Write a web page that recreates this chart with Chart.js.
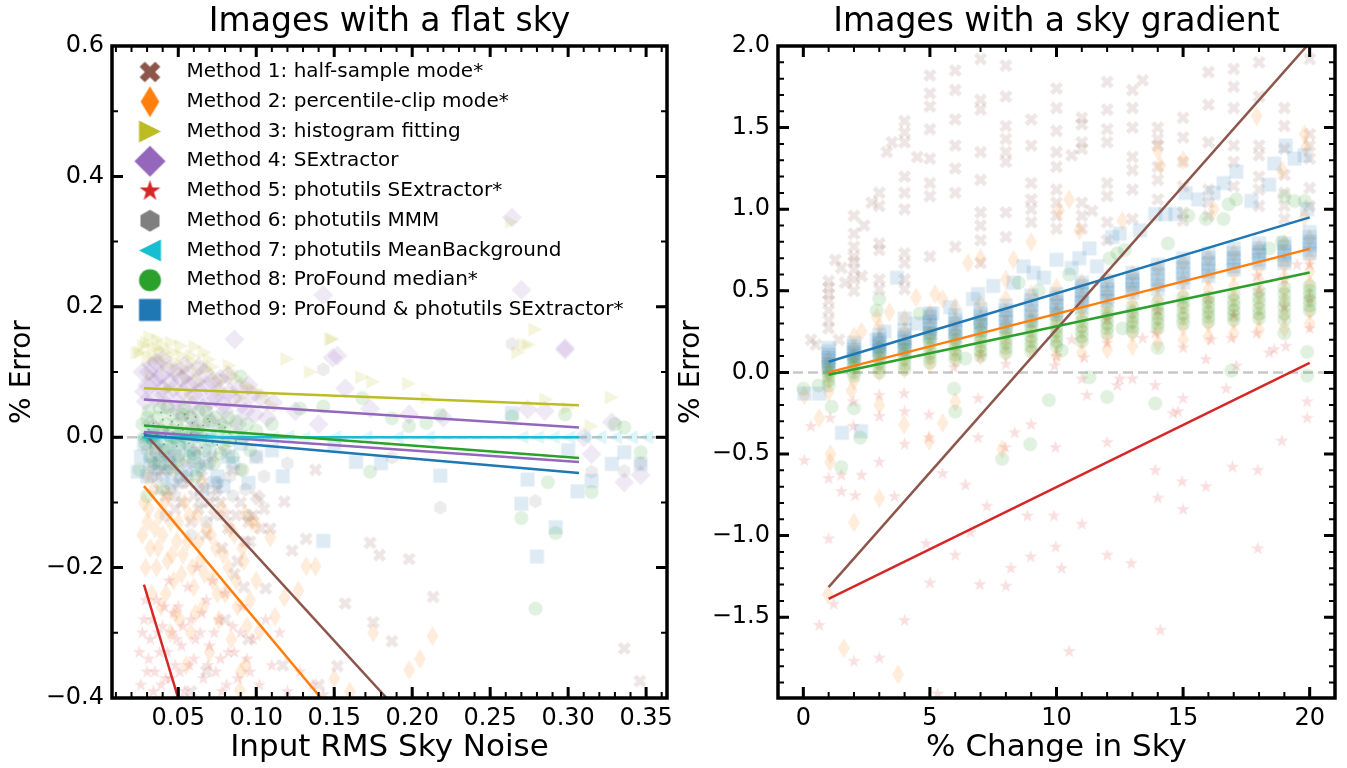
<!DOCTYPE html>
<html>
<head>
<meta charset="utf-8">
<script src="https://cdn.jsdelivr.net/npm/chart.js@4.4.1/dist/chart.umd.min.js"></script>
<style>
body{margin:0;background:#fff}
#wrap{position:relative;width:1347px;height:768px}
canvas{position:absolute;top:0}
</style>
</head>
<body>
<div id="wrap">
<canvas id="flatChart" width="675" height="768" style="left:0"></canvas>
<canvas id="gradChart" width="672" height="768" style="left:675px"></canvas>
</div>
<script>
// ---- methods ----
const methodNames = ['Method 1: half-sample mode*', 'Method 2: percentile-clip mode*', 'Method 3: histogram fitting',
  'Method 4: SExtractor', 'Method 5: photutils SExtractor*', 'Method 6: photutils MMM',
  'Method 7: photutils MeanBackground', 'Method 8: ProFound median*', 'Method 9: ProFound & photutils SExtractor*']
const methodColors = ['#8c564b', '#ff7f0e', '#bcbd22', '#9467bd', '#d62728', '#7f7f7f', '#17becf', '#2ca02c', '#1f77b4']
const methodShapes = ['xfilled', 'thin_diamond', 'tri_right', 'diamond', 'star', 'hexagon', 'tri_left', 'circle', 'square']

// ---- axes ----
const flatXRange = [0.0075, 0.3634]
const flatYRange = [-0.4, 0.6]
const flatXTicks = [0.05, 0.1, 0.15, 0.2, 0.25, 0.3, 0.35]
const flatYTicks = [-0.4, -0.2, 0, 0.2, 0.4, 0.6]
const gradXRange = [-1, 21]
const gradYRange = [-1.995, 2]
const gradXTicks = [0, 5, 10, 15, 20]
const gradYTicks = [-1.5, -1, -0.5, 0, 0.5, 1, 1.5, 2]

// ---- flat sky: scatter (x = rms noise, y = % error) ----
const flatM1 = [[0.035,-0.02],[0.04,-0.05],[0.045,-0.03],[0.05,-0.07],[0.055,-0.04],[0.06,-0.09],[0.065,-0.06],[0.07,-0.1],
  [0.075,-0.08],[0.08,-0.12],[0.085,-0.05],[0.09,-0.1],[0.095,-0.13],[0.1,-0.09],[0.038,-0.08],[0.048,-0.11],[0.058,-0.13],
  [0.068,-0.15],[0.078,-0.17],[0.088,-0.19],[0.072,-0.03],[0.062,-0.02],[0.105,-0.11],[0.109,-0.14],[0.096,-0.16],[0.086,-0.21],
  [0.092,-0.23],[0.102,-0.095],[0.118,-0.099],[0.138,-0.05],[0.132,-0.156],[0.123,-0.174],[0.106,-0.232],[0.157,-0.255],
  [0.152,-0.351],[0.117,-0.35],[0.068,-0.359],[0.173,-0.162],[0.179,-0.181],[0.198,-0.187],[0.2135,-0.245],[0.175,-0.284],
  [0.187,-0.313],[0.336,-0.324],[0.346,-0.374],[0.08,-0.28],[0.095,-0.31],[0.14,-0.38],[0.058,-0.39],
  [0.033,-0.04],[0.037,-0.06],[0.042,-0.09],[0.047,-0.05],[0.052,-0.1],[0.057,-0.07],[0.063,-0.11],[0.067,-0.08],
  [0.073,-0.12],[0.077,-0.1],[0.082,-0.14],[0.087,-0.12],[0.093,-0.16],[0.098,-0.12],[0.103,-0.14]]
const flatM2 = [[0.028,-0.1],[0.03,-0.13],[0.032,-0.17],[0.034,-0.08],[0.036,-0.2],[0.038,-0.12],[0.04,-0.15],[0.042,-0.24],
  [0.044,-0.09],[0.046,-0.18],[0.048,-0.27],[0.05,-0.13],[0.052,-0.21],[0.054,-0.1],[0.056,-0.16],[0.058,-0.3],[0.06,-0.23],
  [0.062,-0.12],[0.064,-0.19],[0.066,-0.26],[0.068,-0.14],[0.07,-0.33],[0.072,-0.22],[0.074,-0.17],[0.076,-0.28],[0.078,-0.11],
  [0.08,-0.24],[0.082,-0.2],[0.084,-0.31],[0.086,-0.15],[0.088,-0.26],[0.09,-0.36],[0.092,-0.19],[0.094,-0.29],[0.097,-0.13],
  [0.1,-0.22],[0.03,-0.06],[0.045,-0.3],[0.055,-0.35],[0.065,-0.07],[0.093,-0.118],[0.0997,-0.134],[0.109,-0.154],
  [0.132,-0.198],[0.138,-0.198],[0.118,-0.246],[0.127,-0.235],[0.112,-0.275],[0.102,-0.298],[0.0895,-0.388],[0.093,-0.35],
  [0.175,-0.3],[0.213,-0.305],[0.205,-0.34],[0.198,-0.357],[0.15,-0.37],[0.16,-0.39],
  [0.027,-0.15],[0.029,-0.2],[0.031,-0.11],[0.033,-0.24],[0.035,-0.14],[0.037,-0.17],[0.039,-0.26],[0.041,-0.1],
  [0.043,-0.19],[0.045,-0.13],[0.047,-0.22],[0.049,-0.16],[0.051,-0.28],[0.053,-0.18],[0.057,-0.12],[0.059,-0.2],
  [0.061,-0.27],[0.063,-0.16],[0.067,-0.21],[0.071,-0.15],[0.075,-0.24],[0.079,-0.18],[0.083,-0.14],[0.087,-0.22],
  [0.091,-0.17],[0.096,-0.25]]
const flatM3 = [[0.026,0.13],[0.03,0.145],[0.032,0.154],[0.035,0.12],[0.038,0.135],[0.04,0.142],[0.043,0.11],[0.047,0.13],
  [0.05,0.1],[0.053,0.125],[0.056,0.09],[0.06,0.115],[0.061,0.139],[0.065,0.085],[0.068,0.105],[0.07,0.119],[0.074,0.095],
  [0.078,0.07],[0.081,0.089],[0.085,0.1],[0.09,0.06],[0.094,0.08],[0.098,0.073],[0.104,0.065],[0.11,0.05],[0.024,0.13],
  [0.045,0.075],[0.058,0.06],[0.033,0.095],[0.148,0.15],[0.149,0.151],[0.168,0.092],[0.175,0.085],[0.198,0.082],[0.21,0.06],
  [0.264,0.33],[0.279,0.165],[0.272,0.142],[0.275,0.142],[0.268,0.13],[0.328,0.061],[0.315,0.017],[0.286,0.058],[0.3,0.045],
  [0.12,0.12],[0.135,0.1],
  [0.028,0.14],[0.031,0.12],[0.034,0.135],[0.037,0.15],[0.039,0.12],[0.042,0.13],[0.046,0.145],[0.049,0.115],[0.052,0.14],
  [0.055,0.105],[0.059,0.125],[0.063,0.1],[0.067,0.13],[0.072,0.108],[0.076,0.085],[0.083,0.11],[0.088,0.09]]
const flatM4 = [[0.027,0.1],[0.03,0.08],[0.033,0.11],[0.035,0.06],[0.037,0.09],[0.04,0.12],[0.042,0.05],[0.045,0.085],
  [0.048,0.1],[0.05,0.04],[0.053,0.07],[0.055,0.095],[0.058,0.03],[0.06,0.065],[0.063,0.108],[0.066,0.045],[0.068,0.08],
  [0.071,0.025],[0.074,0.06],[0.077,0.09],[0.08,0.04],[0.083,0.07],[0.086,0.15],[0.088,0.02],[0.091,0.05],[0.095,0.08],
  [0.099,0.035],[0.103,0.06],[0.107,0.03],[0.111,0.053],[0.032,0.02],[0.046,0.01],[0.062,0.015],[0.04,0.075],[0.029,0.055],
  [0.149,0.122],[0.152,0.125],[0.157,0.075],[0.173,0.044],[0.198,0.035],[0.22,0.03],[0.274,0.043],[0.298,0.137],[0.285,0.04],
  [0.328,0.023],[0.315,-0.026],[0.336,-0.069],[0.3465,-0.058],[0.264,0.337],[0.27,0.226],[0.143,0.218],[0.298,0.134],
  [0.125,0.04],[0.14,0.02],[0.31,0.0],
  [0.028,0.07],[0.031,0.1],[0.034,0.085],[0.036,0.115],[0.039,0.095],[0.041,0.065],[0.044,0.105],[0.047,0.075],[0.049,0.055],
  [0.052,0.09],[0.054,0.11],[0.057,0.08],[0.059,0.05],[0.061,0.085],[0.064,0.07],[0.067,0.1],[0.07,0.055],[0.072,0.085],
  [0.076,0.07],[0.079,0.05],[0.082,0.095],[0.085,0.06],[0.089,0.075],[0.093,0.04],[0.097,0.065]]
const flatM5 = [[0.028,-0.28],[0.03,-0.36],[0.032,-0.31],[0.034,-0.39],[0.036,-0.25],[0.038,-0.33],[0.04,-0.29],[0.042,-0.37],
  [0.044,-0.22],[0.046,-0.3],[0.048,-0.35],[0.05,-0.26],[0.052,-0.32],[0.054,-0.39],[0.056,-0.23],[0.058,-0.28],[0.06,-0.34],
  [0.062,-0.2],[0.064,-0.3],[0.066,-0.37],[0.068,-0.25],[0.07,-0.32],[0.072,-0.22],[0.074,-0.36],[0.076,-0.28],[0.078,-0.39],
  [0.08,-0.24],[0.082,-0.33],[0.085,-0.29],[0.088,-0.37],[0.091,-0.26],[0.094,-0.34],[0.098,-0.31],[0.102,-0.38],[0.106,-0.28],
  [0.11,-0.35],[0.115,-0.3],[0.12,-0.39],[0.128,-0.36],[0.136,-0.38],[0.143,-0.395],[0.025,-0.33],[0.026,-0.38],[0.05,-0.4],
  [0.066,-0.41],
  [0.027,-0.3],[0.029,-0.25],[0.031,-0.34],[0.033,-0.28],[0.035,-0.36],[0.037,-0.3],[0.039,-0.38],[0.041,-0.26],[0.043,-0.33],
  [0.045,-0.37],[0.047,-0.27],[0.049,-0.31],[0.051,-0.36],[0.053,-0.29],[0.057,-0.35],[0.061,-0.31],[0.065,-0.27],[0.069,-0.35],
  [0.073,-0.3],[0.077,-0.34],[0.081,-0.38],[0.086,-0.33],[0.09,-0.3],[0.096,-0.36]]
const flatM6 = [[0.03,-0.02],[0.035,-0.05],[0.04,0.01],[0.045,-0.08],[0.05,-0.03],[0.055,-0.06],[0.06,0.0],[0.065,-0.1],
  [0.07,-0.04],[0.075,-0.07],[0.08,-0.02],[0.085,-0.09],[0.09,-0.05],[0.095,-0.12],[0.1,-0.03],[0.042,-0.12],[0.052,0.03],
  [0.068,-0.13],[0.058,-0.15],[0.078,0.02],[0.143,0.104],[0.264,0.143],[0.218,-0.108],[0.279,-0.098],[0.315,-0.053],
  [0.336,-0.052],[0.3465,-0.04],[0.187,-0.031],[0.12,-0.04],[0.105,-0.06],
  [0.033,-0.06],[0.038,-0.03],[0.043,-0.05],[0.048,-0.09],[0.053,-0.07],[0.063,-0.04],[0.073,-0.09],[0.083,-0.06],[0.093,-0.08]]
const flatM7 = [[0.027,0.0],[0.03,0.005],[0.033,-0.005],[0.036,0.0],[0.04,0.003],[0.045,-0.003],[0.05,0.0],[0.055,0.004],
  [0.06,-0.002],[0.065,0.0],[0.07,0.003],[0.075,-0.003],[0.08,0.0],[0.09,0.002],[0.1,-0.002],[0.11,0.0],[0.12,0.001],
  [0.13,-0.001],[0.15,0.0],[0.17,0.0],[0.19,0.0],[0.21,0.0],[0.27,0.0],[0.28,0.0],[0.29,0.0],[0.3,0.0],[0.31,0.0],
  [0.32,0.0],[0.33,0.0],[0.34,0.0],[0.35,0.0],
  [0.028,0.002],[0.029,-0.003],[0.031,0.0],[0.032,0.003],[0.034,-0.002],[0.038,0.002],[0.042,-0.001],[0.048,0.002],
  [0.052,-0.002],[0.058,0.001],[0.062,0.002],[0.068,-0.001]]
const flatM8 = [[0.027,0.02],[0.029,-0.01],[0.031,0.04],[0.033,0.0],[0.035,-0.04],[0.037,0.03],[0.039,0.01],[0.041,-0.02],
  [0.043,0.045],[0.045,0.0],[0.047,-0.05],[0.049,0.02],[0.051,-0.015],[0.053,0.035],[0.055,0.005],[0.057,-0.03],[0.059,0.015],
  [0.061,-0.06],[0.063,0.04],[0.065,0.0],[0.067,-0.02],[0.07,0.025],[0.073,-0.04],[0.076,0.01],[0.079,-0.01],[0.082,0.03],
  [0.085,-0.03],[0.088,0.005],[0.091,-0.05],[0.094,0.02],[0.025,-0.05],[0.03,-0.09],[0.04,-0.08],[0.09,0.093],[0.128,0.044],
  [0.11,0.02],[0.143,0.047],[0.168,0.06],[0.218,0.034],[0.173,-0.053],[0.187,0.029],[0.198,0.017],[0.209,0.022],[0.264,0.032],
  [0.298,0.035],[0.287,-0.069],[0.27,-0.124],[0.292,-0.147],[0.279,-0.263],[0.315,-0.084],[0.336,0.015],[0.3465,-0.023],[0.33,0.02],
  [0.028,0.0],[0.03,0.03],[0.032,-0.03],[0.034,0.015],[0.036,-0.01],[0.038,0.045],[0.04,-0.04],[0.042,0.02],[0.044,-0.015],
  [0.046,0.035],[0.048,0.0],[0.05,-0.035],[0.052,0.01],[0.054,0.045],[0.056,-0.01],[0.058,0.03],[0.06,-0.025],[0.062,0.01],
  [0.064,-0.045],[0.066,0.02],[0.068,0.04],[0.071,-0.005],[0.074,0.03],[0.077,-0.025],[0.08,0.015],[0.083,-0.005],
  [0.087,0.025],[0.092,0.0],[0.096,-0.02],[0.1,0.01]]
const flatM9 = [[0.026,-0.03],[0.03,-0.06],[0.034,0.0],[0.038,-0.04],[0.042,-0.02],[0.046,-0.07],[0.05,-0.01],[0.055,-0.05],
  [0.06,-0.03],[0.065,-0.08],[0.07,-0.02],[0.075,-0.06],[0.079,-0.075],[0.085,-0.04],[0.09,-0.01],[0.095,-0.07],[0.1,-0.03],
  [0.024,-0.053],[0.117,-0.06],[0.11,-0.02],[0.143,-0.159],[0.164,-0.038],[0.18,-0.04],[0.218,-0.059],[0.264,0.037],
  [0.274,-0.065],[0.27,-0.102],[0.28,-0.183],[0.292,-0.138],[0.306,-0.083],[0.315,-0.067],[0.328,-0.041],[0.336,-0.023],
  [0.3465,-0.041],[0.15,-0.01],[0.3,-0.02],
  [0.028,-0.01],[0.032,-0.04],[0.036,-0.02],[0.04,-0.06],[0.044,-0.04],[0.048,-0.03],[0.052,-0.06],[0.058,-0.02],
  [0.062,-0.05],[0.068,-0.04],[0.073,-0.07],[0.082,-0.03]]
const flatDots = [[0.031,0.012],[0.034,0.021],[0.036,0.004],[0.037,0.017],[0.04,0.027],[0.042,0.002],[0.043,0.014],
  [0.046,0.024],[0.047,0.007],[0.05,0.019],[0.052,-0.003],[0.053,0.011],[0.056,0.029],[0.058,0.006],[0.059,0.022],
  [0.062,-0.004],[0.063,0.013],[0.066,0.018],[0.068,0.003],[0.07,0.024],[0.072,-0.008],[0.074,0.009],[0.076,0.02],
  [0.078,-0.002],[0.08,0.015],[0.033,-0.007],[0.041,-0.011],[0.049,-0.014],[0.057,-0.009],[0.065,-0.016],[0.075,-0.012],
  [0.045,0.033],[0.054,0.035],[0.061,0.031],[0.069,0.028],[0.083,0.006],[0.087,-0.006],[0.039,0.038],[0.048,0.0],[0.055,-0.001]]

// ---- flat sky: linear fits (x ends, y ends per method) ----
const flatFitX = [0.028, 0.307]
const flatFitM1 = [0.007, -0.723]
const flatFitM2 = [-0.075, -0.874]
const flatFitM3 = [0.075, 0.049]
const flatFitM4 = [0.058, 0.015]
const flatFitM5 = [-0.226, -2.44]
const flatFitM6 = [0.008, -0.038]
const flatFitM7 = [0.0, 0.0]
const flatFitM8 = [0.018, -0.032]
const flatFitM9 = [0.003, -0.055]

// ---- sky gradient: columns at each % change ----
const gradSteps = [1, 2, 3, 4, 5, 6, 7, 8, 9, 10, 11, 12, 13, 14, 15, 16, 17, 18, 19, 20]
const gradM1Cols = [[0.27,0.32,0.38,0.44,0.48,0.52,0.56],[0.5,0.57,0.63,0.68,0.71,0.77,0.85,0.96],[0.51,0.57,0.75,0.79,1.02,1.1],
  [0.51,0.57,0.67,0.73,1.0,1.1,1.2,1.41,1.47,1.54],[0.71,1.08,1.16,1.31,1.49,1.63,1.71,1.82],[0.77,1.1,1.25,1.39,1.55,1.73,1.85],
  [0.67,0.81,0.9,0.98,1.18,1.35,1.61,1.67,1.92],[0.83,0.98,1.29,1.35,1.43,1.51,1.69,1.88],[0.92,1.0,1.06,1.16,1.39,1.55],
  [0.88,0.96,1.04,1.12,1.26,1.35,1.48,1.62,1.74],[0.88,0.96,1.04,1.37,1.41,1.52,1.56],[0.81,0.92,1.08,1.16,1.41,1.49,1.61,1.78],
  [0.94,1.12,1.24,1.32,1.5,1.62,1.73],[1.06,1.18,1.26,1.39,1.43,1.5],[0.93,0.98,1.14,1.29,1.44,1.56],[0.96,1.04,1.12,1.41,1.64,1.84],
  [1.14,1.29,1.39,1.62,1.75,1.86],[1.02,1.12,1.2,1.33,1.39,1.69,1.9],[0.94,1.02,1.1,1.21,1.37,1.51,1.62],[1.02,1.13,1.31,1.39,1.46,1.92]]
const gradM1Extra = [[0.3,0.2],[0.5,0.17],[1.26,0.69],[1.5,0.64],[1.65,0.55],[1.4,0.2],[2.31,0.59],[2.7,1.04],[3.3,1.35],
  [3.5,1.41],[4.5,1.32],[10.6,1.33],[11.4,0.99],[13.4,1.79],[2.4,0.9]]
const gradM2Cols = [[-0.12,-0.05,0.0,0.04,0.08],[-0.05,0.02,0.06,0.1,0.15,0.22],[0.0,0.05,0.1,0.14,0.2,0.28],
  [0.02,0.08,0.13,0.18,0.25,0.33],[0.05,0.1,0.16,0.22,0.28,0.36],[0.08,0.13,0.19,0.25,0.31,0.4],[0.1,0.15,0.21,0.27,0.33,0.42],
  [0.12,0.18,0.24,0.3,0.36,0.45],[0.14,0.2,0.26,0.32,0.38,0.48],[0.1,0.18,0.25,0.31,0.37,0.44,0.52],
  [0.12,0.2,0.27,0.33,0.39,0.46,0.55],[0.14,0.22,0.29,0.35,0.41,0.48,0.58],[0.16,0.24,0.31,0.37,0.43,0.5,0.6],
  [0.18,0.26,0.33,0.39,0.45,0.53,0.64],[0.2,0.28,0.35,0.41,0.48,0.56,0.67],[0.22,0.3,0.37,0.44,0.51,0.58,0.7],
  [0.24,0.32,0.39,0.46,0.53,0.61,0.73],[0.26,0.34,0.41,0.48,0.56,0.64,0.76],[0.27,0.35,0.43,0.5,0.58,0.66,0.79],
  [0.3,0.38,0.46,0.54,0.62,0.7,0.82]]
const gradM2Extra = [[6.5,0.67],[7,0.7],[8.3,0.69],[4.45,0.46],[5.5,0.45],[5.2,0.48],[2.9,0.34],[3.4,0.37],[2.3,0.25],
  [10.1,0.99],[10.5,1.06],[10.9,0.87],[12.6,0.93],[14,1.36],[14.1,1.27],[15,1.3],[17.9,1.57],[19.8,1.46],[19.85,1.38],
  [18.9,1.24],[19.8,0.95],[16.2,1.0],[9,0.8],[8,0.57],[1.6,-1.69],[3.74,-1.85],[2,-0.92],[3,-0.77],[1.07,-0.5],[1.05,-0.55],
  [0.97,-1.36],[5.5,-0.31],[4.97,-0.42],[3.98,-0.32],[7.85,-0.47],[6,-0.18],[3,-0.2],[1.9,-0.11],[0.04,-0.14],[0.63,-0.28]]
const gradM5 = [[0.04,-0.54],[0.63,-1.55],[1.0,-0.65],[1.0,-1.02],[1.2,-1.42],[1.5,-0.63],[1.5,-0.73],[2.05,-0.755],[2.0,-1.77],
  [2.3,-0.63],[3.0,-0.55],[3.0,-1.75],[3.6,-0.76],[4.0,-0.44],[4.0,-1.52],[4.85,-1.05],[5.0,-1.29],[5.3,-1.97],[5.5,-0.62],
  [6.0,-1.12],[6.4,-0.69],[6.6,-0.98],[6.97,-1.3],[7.25,-0.82],[8.0,-1.31],[8.2,-1.2],[8.35,-0.37],[8.85,-0.88],[8.98,-1.13],
  [9.9,-0.88],[9.97,-1.07],[10.2,-1.2],[9.96,-0.46],[10.5,-1.71],[11.0,-0.93],[11.2,-0.14],[12.0,-0.43],[12.0,-1.12],
  [12.5,-0.04],[13.0,-0.04],[12.95,-1.17],[13.9,-0.6],[14.0,-0.77],[14.1,-1.58],[14.6,-0.25],[15.0,-0.16],[14.96,-0.67],
  [15.0,-0.84],[15.9,-0.7],[16.7,-0.1],[16.95,-0.58],[17.95,-0.6],[17.95,-1.08],[18.9,-0.42],[19.9,-0.18],[17.9,0.59],
  [19.5,0.66],[20.0,0.66],[19.0,0.57],[17.9,0.24],[19.05,0.16],[15.0,0.15],[15.9,0.08],[16.9,0.21],[13.4,0.21],[13.9,0.24],
  [12.0,0.18],[10.6,0.2],[11.1,0.09],[18.6,0.14],[20.0,0.27],[0.3,-0.33],[1.06,-0.28],[1.97,-0.18],[1.97,-0.33],[3.0,-0.14],
  [3.0,-0.27],[3.98,-0.13],[4.0,-0.24],[4.96,-0.26],[4.96,-0.4],[5.95,0.03],[6.9,-0.16],[6.9,-0.4],[7.97,-0.46],[9.0,-0.32],
  [9.92,0.04],[11.0,-0.04],[12.4,-0.08],[13.9,-0.08],[14.8,-0.24],[16.1,0.2],[17.1,0.04],[18.4,0.12],[19.9,-0.28],[18.0,0.5],
  [16.0,0.45],[14.0,0.38],[12.0,0.33],[20,0.45],[19,0.4],[17,0.35],[10,0.1],[8,0.05],[7,0.1]]
const gradM8Cols = [[-0.08,-0.05,-0.02,0.0,0.02,0.05],[-0.02,0.0,0.03,0.05,0.08,0.1],[0.0,0.03,0.06,0.09,0.12,0.15],
  [0.02,0.05,0.08,0.11,0.14,0.17],[0.06,0.09,0.12,0.15,0.18,0.21,0.24],[0.08,0.11,0.14,0.17,0.2,0.23],[0.1,0.13,0.16,0.19,0.22,0.25],
  [0.12,0.15,0.18,0.21,0.24,0.27],[0.13,0.16,0.19,0.22,0.25,0.28,0.31],[0.16,0.19,0.22,0.25,0.28,0.31,0.35],
  [0.19,0.22,0.25,0.28,0.31,0.35],[0.24,0.27,0.3,0.33,0.36,0.39],[0.25,0.28,0.31,0.34,0.37,0.4],[0.27,0.3,0.33,0.36,0.39,0.43],
  [0.3,0.33,0.36,0.4,0.43,0.46],[0.31,0.34,0.37,0.4,0.43,0.46],[0.32,0.35,0.38,0.41,0.44,0.48],[0.33,0.36,0.39,0.43,0.46,0.5],
  [0.32,0.36,0.4,0.44,0.48,0.52],[0.38,0.41,0.44,0.47,0.5,0.53]]
const gradM8Extra = [[0.0,-0.1],[0.6,-0.08],[1.12,-0.21],[1.5,-0.58],[2.0,-0.22],[2.25,-0.4],[5.95,-0.1],[6.0,-0.24],[6.4,0.085],
  [7.85,-0.53],[8.96,-0.44],[9.7,-0.17],[10.2,0.135],[11.3,-0.03],[12.0,-0.15],[12.6,0.27],[13.9,-0.19],[14.0,0.15],[16.9,0.01],
  [19.0,0.24],[19.9,-0.02],[19.9,0.125],[12.4,0.73],[12.7,0.75],[12.1,0.7],[14.4,0.79],[15.2,0.96],[15.9,0.94],[16.6,0.94],
  [17.1,1.06],[16.8,1.03],[18.4,0.76],[18.9,0.8],[19.0,1.08],[19.4,1.05],[19.8,1.05],[8.5,0.55],[9.3,0.5],[10.5,0.6],[3,0.45],
  [2.9,0.38],[7,0.3],[4.6,0.36]]
const gradM9Cols = [[0.03,0.05,0.07,0.09,0.11,0.13,0.15],[0.08,0.1,0.12,0.14,0.16,0.18],[0.12,0.14,0.16,0.18,0.2,0.23],
  [0.14,0.16,0.19,0.21,0.23,0.26],[0.22,0.24,0.27,0.29,0.31,0.34,0.36],[0.22,0.25,0.27,0.3,0.32,0.35],[0.26,0.29,0.31,0.34,0.36,0.39],
  [0.28,0.31,0.33,0.36,0.38,0.41],[0.32,0.35,0.38,0.41,0.44,0.47],[0.36,0.38,0.41,0.43,0.46,0.48],[0.4,0.43,0.45,0.48,0.5,0.53,0.55],
  [0.44,0.46,0.49,0.51,0.54,0.56],[0.49,0.51,0.54,0.56,0.58,0.61],[0.51,0.54,0.57,0.6,0.63,0.66],[0.55,0.58,0.61,0.64,0.67,0.7],
  [0.59,0.62,0.64,0.67,0.7,0.73],[0.63,0.65,0.68,0.7,0.73,0.76],[0.67,0.69,0.72,0.74,0.76,0.79],[0.67,0.69,0.72,0.74,0.77,0.79],
  [0.73,0.75,0.78,0.8,0.83,0.86]]
const gradM9Extra = [[0.04,-0.13],[0.63,-0.13],[1.53,-0.37],[2.28,-0.36],[2.9,0.2],[3.7,0.58],[4.5,0.3],[5.1,0.36],[6.7,0.45],
  [6.9,0.48],[7.5,0.53],[8.3,0.55],[8.7,0.65],[9.1,0.61],[9.5,0.58],[10,0.69],[10.6,0.64],[10.9,0.7],[11.3,0.76],[12.2,0.83],
  [12.5,0.85],[13.3,0.87],[13.9,0.97],[14.3,0.97],[14.7,0.97],[15.1,1.1],[15.6,1.06],[16.2,1.1],[16.6,1.16],[17.1,1.23],
  [17.7,1.05],[18.4,1.15],[18.6,1.28],[19.05,1.39],[19.4,1.31],[19.8,1.33],[19.9,1.0],[11.6,0.65],[3.2,0.25],[4,0.33],[5.8,0.4]]

// ---- sky gradient: linear fits ----
const gradFitX = [1, 20]
const gradFitM1 = [-1.316, 2.02]
const gradFitM2 = [0.0, 0.757]
const gradFitM5 = [-1.388, 0.059]
const gradFitM8 = [-0.014, 0.612]
const gradFitM9 = [0.065, 0.95]

// ---- helpers ----
function rgba(hex, a) {
  const n = parseInt(hex.slice(1), 16)
  return `rgba(${n >> 16},${(n >> 8) & 255},${n & 255},${a})`
}

function tracePath(g, shape, s) {
  const h = s / 2
  if (shape === 'circle') { g.arc(0, 0, h, 0, Math.PI * 2); return }
  let pts = []
  if (shape === 'square') pts = [[-h,-h],[h,-h],[h,h],[-h,h]]
  else if (shape === 'diamond') { const d = s * Math.SQRT1_2; pts = [[0,-d],[d,0],[0,d],[-d,0]] }
  else if (shape === 'thin_diamond') { const d = s * Math.SQRT1_2; pts = [[0,-d],[0.6*d,0],[0,d],[-0.6*d,0]] }
  else if (shape === 'tri_right') pts = [[h,0],[-h,-h],[-h,h]]
  else if (shape === 'tri_left') pts = [[-h,0],[h,-h],[h,h]]
  else if (shape === 'hexagon') {
    for (let k = 0; k < 6; k++) { const t = -Math.PI / 2 + k * Math.PI / 3; pts.push([h * Math.cos(t), h * Math.sin(t)]) }
  } else if (shape === 'star') {
    for (let k = 0; k < 10; k++) { const r = k % 2 ? h * 0.381966 : h; const t = -Math.PI / 2 + k * Math.PI / 5; pts.push([r * Math.cos(t), r * Math.sin(t)]) }
  } else if (shape === 'xfilled') {
    const base = [[-1,-3],[1,-3],[1,-1],[3,-1],[3,1],[1,1],[1,3],[-1,3],[-1,1],[-3,1],[-3,-1],[-1,-1]]
    pts = base.map(([u, v]) => [(u - v) * Math.SQRT1_2 * s / 6, (u + v) * Math.SQRT1_2 * s / 6])
  }
  g.moveTo(pts[0][0], pts[0][1])
  pts.slice(1).forEach(p => g.lineTo(p[0], p[1]))
  g.closePath()
}

function markerImage(shape, color, size) {
  const dim = Math.ceil(size * 1.5) + 4
  const c = document.createElement('canvas')
  c.width = dim
  c.height = dim
  const g = c.getContext('2d')
  g.translate(dim / 2, dim / 2)
  g.fillStyle = color
  g.beginPath()
  tracePath(g, shape, size)
  g.fill()
  return c
}

function columnPoints(xs, cols, extra) {
  const pts = []
  xs.forEach((x, i) => cols[i].forEach(y => pts.push([x, y])))
  return pts.concat(extra || [])
}

function scatterSet(m, points) {
  return {
    type: 'scatter',
    label: methodNames[m],
    data: points.map(p => ({x: p[0], y: p[1]})),
    pointStyle: markerImage(methodShapes[m], rgba(methodColors[m], 0.15), 14),
    pointRadius: 7,
    clip: 0,
    order: 30 - m
  }
}

function fitSet(color, xs, ys, order) {
  return {
    type: 'line',
    data: xs.map((x, i) => ({x: x, y: ys[i]})),
    borderColor: color,
    borderWidth: 2.5,
    pointRadius: 0,
    fill: false,
    clip: 0,
    order: order
  }
}

const fmt1 = v => (v < 0 ? '\u2212' : '') + Math.abs(v).toFixed(1)

// ---- plugins ----
const frameTicks = {
  id: 'frameTicks',
  beforeDatasetsDraw(chart) {
    const {ctx, chartArea: a, scales: {y}} = chart
    const y0 = y.getPixelForValue(0)
    ctx.save()
    ctx.strokeStyle = '#c8c8c8'
    ctx.lineWidth = 2.5
    ctx.setLineDash([10, 5])
    ctx.beginPath()
    ctx.moveTo(a.left, y0)
    ctx.lineTo(a.right, y0)
    ctx.stroke()
    ctx.restore()
  },
  afterDatasetsDraw(chart, args, o) {
    const {ctx, chartArea: a, scales: {x, y}} = chart
    ctx.save()
    ctx.strokeStyle = '#000'
    const xt = (vals, len, w) => {
      ctx.lineWidth = w
      ctx.beginPath()
      vals.forEach(v => {
        const p = x.getPixelForValue(v)
        if (p < a.left + 1 || p > a.right - 1) return
        ctx.moveTo(p, a.bottom); ctx.lineTo(p, a.bottom - len)
        ctx.moveTo(p, a.top); ctx.lineTo(p, a.top + len)
      })
      ctx.stroke()
    }
    const yt = (vals, len, w) => {
      ctx.lineWidth = w
      ctx.beginPath()
      vals.forEach(v => {
        const p = y.getPixelForValue(v)
        if (p < a.top + 1 || p > a.bottom - 1) return
        ctx.moveTo(a.left, p); ctx.lineTo(a.left + len, p)
        ctx.moveTo(a.right, p); ctx.lineTo(a.right - len, p)
      })
      ctx.stroke()
    }
    const minor = (lo, hi, step) => {
      const out = []
      for (let k = Math.ceil(lo / step); k * step <= hi; k++) out.push(+(k * step).toFixed(6))
      return out
    }
    xt(minor(x.min, x.max, o.xMinor), 6, 2)
    yt(minor(y.min, y.max, o.yMinor), 6, 2)
    xt(o.xMajor, 11, 3)
    yt(o.yMajor, 11, 3)
    ctx.lineWidth = 3.5
    ctx.strokeRect(a.left, a.top, a.right - a.left, a.bottom - a.top)
    ctx.restore()
  }
}

const methodLegend = {
  id: 'methodLegend',
  afterDraw(chart, args, o) {
    if (!o.show) return
    const {ctx, chartArea: a} = chart
    ctx.save()
    ctx.font = '20px "DejaVu Sans"'
    ctx.textBaseline = 'middle'
    ctx.fillStyle = '#000'
    methodNames.forEach((name, i) => {
      const img = markerImage(methodShapes[i], methodColors[i], 22)
      const yy = a.top + 26 + i * 29.75
      ctx.drawImage(img, a.left + 38 - img.width / 2, yy - img.height / 2)
      ctx.fillText(name, a.left + 74.5, yy)
    })
    ctx.restore()
  }
}

function panelOptions(p) {
  const noPad = s => { s.paddingLeft = 0; s.paddingRight = 0; s.paddingTop = 0; s.paddingBottom = 0 }
  const hidden = {display: false, drawTicks: false}
  return {
    responsive: false,
    animation: false,
    events: [],
    layout: {padding: 0},
    plugins: {
      legend: {display: false},
      tooltip: {enabled: false},
      frameTicks: {xMajor: p.xTicks, yMajor: p.yTicks, xMinor: p.xMinor, yMinor: p.yMinor},
      methodLegend: {show: p.legend}
    },
    scales: {
      x: {
        type: 'linear', position: 'bottom', min: p.xRange[0], max: p.xRange[1],
        afterBuildTicks: s => { s.ticks = p.xTicks.map(v => ({value: v})) },
        ticks: {color: '#000', font: {size: 24}, padding: 6, maxRotation: 0, minRotation: 0, autoSkip: false, callback: p.xFmt},
        grid: hidden, border: {display: false},
        title: {display: true, text: p.xTitle, color: '#000', font: {size: 31}, padding: {top: 0, bottom: 1}},
        afterFit: s => { s.height = 70; noPad(s) }
      },
      xTop: {
        type: 'linear', position: 'top', min: p.xRange[0], max: p.xRange[1],
        ticks: {display: false}, grid: hidden, border: {display: false},
        title: {display: true, text: p.title, color: '#000', font: {size: 33}, padding: {top: 3, bottom: 0}},
        afterFit: s => { s.height = 46; noPad(s) }
      },
      y: {
        type: 'linear', position: 'left', min: p.yRange[0], max: p.yRange[1],
        afterBuildTicks: s => { s.ticks = p.yTicks.map(v => ({value: v})) },
        ticks: {color: '#000', font: {size: 24}, padding: 8, autoSkip: false, callback: fmt1},
        grid: hidden, border: {display: false},
        title: {display: true, text: '% Error', color: '#000', font: {size: 28}, padding: {top: p.yTitlePad, bottom: 0}},
        afterFit: s => { s.width = p.left; noPad(s) }
      },
      yRight: {
        type: 'linear', position: 'right', min: p.yRange[0], max: p.yRange[1],
        ticks: {display: false}, grid: hidden, border: {display: false},
        afterFit: s => { s.width = p.right; noPad(s) }
      }
    }
  }
}

Chart.defaults.font.family = "'DejaVu Sans', sans-serif"

// ---- left panel ----
const flatSets = [flatM1, flatM2, flatM3, flatM4, flatM5, flatM6, flatM7, flatM8, flatM9].map((pts, m) => scatterSet(m, pts))
flatSets.push({type: 'scatter', data: flatDots.map(p => ({x: p[0], y: p[1]})), pointRadius: 0.9, pointStyle: 'circle',
  backgroundColor: 'rgba(30,120,70,0.5)', borderWidth: 0, clip: 0, order: 15})
const flatFits = [flatFitM1, flatFitM2, flatFitM3, flatFitM4, flatFitM5, flatFitM6, flatFitM7, flatFitM8, flatFitM9]
const flatFitColors = ['#8c564b', '#ff7f0e', '#bcbd22', '#9467bd', '#d62728', '#9467bd', '#17becf', '#2ca02c', '#1f77b4']
flatFits.forEach((ys, m) => flatSets.push(fitSet(flatFitColors[m], flatFitX, ys, 10 - m)))

new Chart(document.getElementById('flatChart'), {
  type: 'scatter',
  data: {datasets: flatSets},
  options: panelOptions({
    title: 'Images with a flat sky', xTitle: 'Input RMS Sky Noise',
    xRange: flatXRange, yRange: flatYRange, xTicks: flatXTicks, yTicks: flatYTicks,
    xMinor: 0.01, yMinor: 0.1, xFmt: v => v.toFixed(2),
    left: 112, right: 8, yTitlePad: 6, legend: true
  }),
  plugins: [frameTicks, methodLegend]
})

// ---- right panel ----
const gradSets = [
  scatterSet(0, columnPoints(gradSteps, gradM1Cols, gradM1Extra)),
  scatterSet(1, columnPoints(gradSteps, gradM2Cols, gradM2Extra)),
  scatterSet(4, gradM5),
  scatterSet(7, columnPoints(gradSteps, gradM8Cols, gradM8Extra)),
  scatterSet(8, columnPoints(gradSteps, gradM9Cols, gradM9Extra)),
  fitSet('#8c564b', gradFitX, gradFitM1, 9),
  fitSet('#ff7f0e', gradFitX, gradFitM2, 8),
  fitSet('#d62728', gradFitX, gradFitM5, 5),
  fitSet('#2ca02c', gradFitX, gradFitM8, 2),
  fitSet('#1f77b4', gradFitX, gradFitM9, 1)
]

new Chart(document.getElementById('gradChart'), {
  type: 'scatter',
  data: {datasets: gradSets},
  options: panelOptions({
    title: 'Images with a sky gradient', xTitle: '% Change in Sky',
    xRange: gradXRange, yRange: gradYRange, xTicks: gradXTicks, yTicks: gradYTicks,
    xMinor: 1, yMinor: 0.1, xFmt: v => String(v),
    left: 103, right: 12, yTitlePad: 0, legend: false
  }),
  plugins: [frameTicks, methodLegend]
})
</script>
</body>
</html>
